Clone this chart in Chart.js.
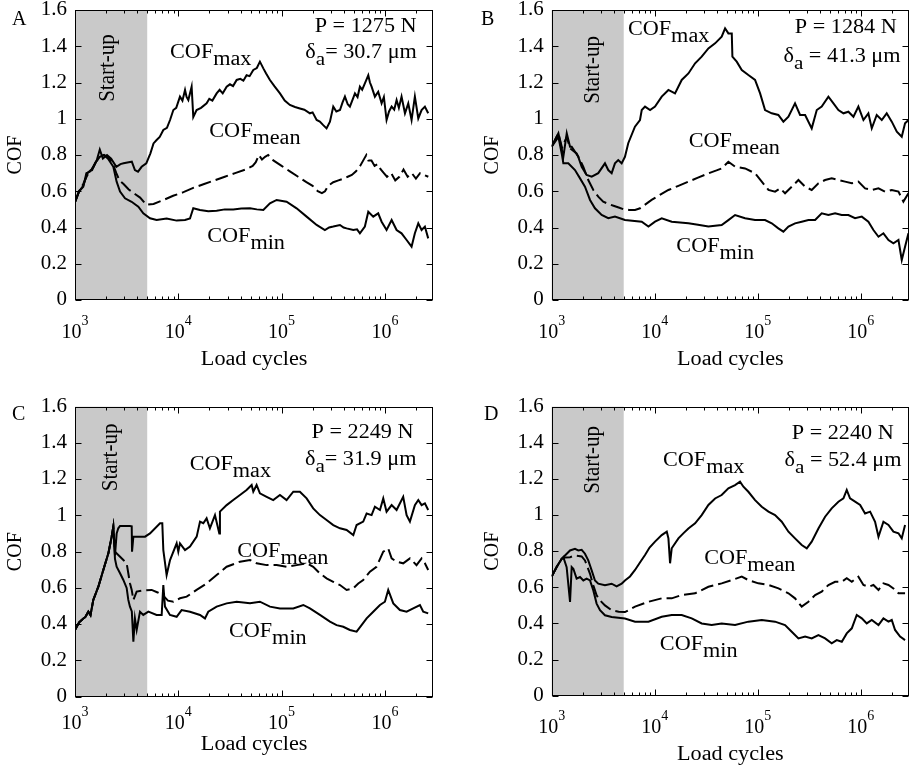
<!DOCTYPE html>
<html>
<head>
<meta charset="utf-8">
<script src="https://cdn.jsdelivr.net/npm/chart.js@4"></script>
<style>
  body { margin: 0; background: #fff; }
  #wrap { position: relative; width: 909px; height: 770px; overflow: hidden; background: #fff; }
  canvas { position: absolute; }
</style>
</head>
<body>
<div id="wrap">
  <canvas id="cA" width="454" height="385" style="left:0;top:0"></canvas>
  <canvas id="cB" width="454" height="385" style="left:455px;top:0"></canvas>
  <canvas id="cC" width="454" height="385" style="left:0;top:385px"></canvas>
  <canvas id="cD" width="454" height="385" style="left:455px;top:385px"></canvas>
</div>
<script>
// Each point is [log10(load cycles), COF]

// Panel A: P = 1275 N
const aMax = [[3.00,.54],[3.04,.60],[3.08,.625],[3.11,.70],[3.15,.71],[3.18,.735],[3.21,.77],[3.24,.83],[3.27,.78],[3.31,.80],[3.35,.78],[3.40,.735],[3.44,.75],[3.47,.754],[3.52,.76],[3.55,.763],[3.58,.717],[3.61,.708],[3.645,.735],[3.69,.754],[3.73,.809],[3.76,.864],[3.79,.883],[3.82,.90],[3.855,.938],[3.89,.95],[3.92,.993],[3.952,1.048],[3.98,1.06],[4.016,1.122],[4.04,1.10],[4.065,1.159],[4.08,1.12],[4.097,1.103],[4.129,1.177],[4.145,1.01],[4.177,1.048],[4.22,1.06],[4.274,1.085],[4.30,1.11],[4.33,1.10],[4.371,1.14],[4.40,1.16],[4.43,1.14],[4.468,1.177],[4.50,1.19],[4.53,1.18],[4.565,1.214],[4.60,1.22],[4.63,1.21],[4.661,1.24],[4.69,1.235],[4.726,1.269],[4.76,1.28],[4.79,1.315],[4.823,1.278],[4.85,1.25],[4.887,1.214],[4.93,1.18],[4.984,1.14],[5.03,1.10],[5.08,1.076],[5.13,1.065],[5.177,1.057],[5.22,1.05],[5.274,1.03],[5.30,1.035],[5.339,.993],[5.37,.985],[5.403,.965],[5.435,.947],[5.468,.984],[5.50,1.067],[5.53,1.04],[5.565,1.048],[5.59,1.09],[5.613,1.122],[5.64,1.08],[5.661,1.067],[5.69,1.11],[5.71,1.14],[5.735,1.12],[5.758,1.177],[5.78,1.16],[5.806,1.195],[5.839,1.24],[5.855,1.20],[5.871,1.177],[5.903,1.122],[5.935,1.149],[5.968,1.085],[5.99,1.12],[6.016,.993],[6.04,1.04],[6.065,1.067],[6.09,1.05],[6.113,1.103],[6.135,1.06],[6.161,1.122],[6.194,1.03],[6.226,1.085],[6.258,.993],[6.29,1.122],[6.323,1.002],[6.355,1.048],[6.387,1.067],[6.419,1.03]];
const aMean = [[3.00,.54],[3.04,.60],[3.08,.64],[3.12,.69],[3.16,.71],[3.20,.76],[3.24,.79],[3.28,.80],[3.32,.79],[3.36,.76],[3.40,.70],[3.43,.66],[3.47,.64],[3.52,.61],[3.58,.585],[3.63,.565],[3.69,.525],[3.76,.53],[3.85,.55],[3.95,.575],[4.05,.595],[4.15,.62],[4.25,.64],[4.35,.66],[4.45,.68],[4.55,.70],[4.65,.72],[4.72,.74],[4.75,.76],[4.78,.80],[4.81,.775],[4.84,.79],[4.87,.80],[4.92,.77],[5.00,.74],[5.08,.71],[5.16,.68],[5.24,.65],[5.30,.63],[5.35,.60],[5.39,.59],[5.42,.60],[5.45,.63],[5.50,.65],[5.55,.66],[5.60,.67],[5.64,.68],[5.68,.69],[5.72,.71],[5.76,.74],[5.80,.78],[5.82,.80],[5.84,.77],[5.87,.77],[5.90,.74],[5.93,.75],[5.96,.72],[5.99,.70],[6.02,.68],[6.06,.70],[6.10,.66],[6.14,.68],[6.18,.72],[6.22,.68],[6.26,.70],[6.30,.67],[6.34,.70],[6.38,.69],[6.42,.68]];
const aMin = [[3.00,.54],[3.04,.60],[3.08,.63],[3.12,.70],[3.16,.72],[3.20,.76],[3.24,.79],[3.28,.80],[3.32,.78],[3.371,.735],[3.403,.653],[3.436,.598],[3.484,.561],[3.548,.542],[3.613,.515],[3.661,.478],[3.726,.451],[3.79,.441],[3.887,.45],[3.984,.438],[4.065,.441],[4.113,.45],[4.145,.506],[4.21,.497],[4.29,.49],[4.371,.493],[4.45,.50],[4.532,.50],[4.61,.505],[4.694,.506],[4.76,.50],[4.823,.497],[4.887,.533],[4.952,.552],[5.048,.542],[5.145,.506],[5.242,.46],[5.339,.414],[5.419,.386],[5.46,.40],[5.50,.405],[5.565,.414],[5.60,.40],[5.629,.395],[5.694,.386],[5.73,.39],[5.758,.368],[5.806,.405],[5.839,.487],[5.887,.46],[5.935,.478],[5.968,.432],[6.016,.386],[6.065,.441],[6.113,.386],[6.161,.368],[6.21,.331],[6.258,.294],[6.29,.368],[6.323,.423],[6.355,.386],[6.387,.405],[6.419,.34]];

// Panel B: P = 1284 N
const bMax = [[3.00,.846],[3.065,.92],[3.113,.79],[3.146,.92],[3.178,.846],[3.194,.846],[3.258,.79],[3.291,.735],[3.339,.69],[3.388,.68],[3.452,.70],[3.517,.754],[3.549,.717],[3.582,.70],[3.614,.754],[3.646,.772],[3.679,.754],[3.711,.79],[3.743,.865],[3.808,.956],[3.857,.993],[3.874,1.048],[3.906,1.067],[3.955,1.048],[4.003,1.067],[4.068,1.122],[4.133,1.159],[4.197,1.14],[4.262,1.214],[4.327,1.25],[4.392,1.306],[4.456,1.343],[4.521,1.388],[4.586,1.416],[4.65,1.453],[4.683,1.499],[4.715,1.471],[4.748,1.471],[4.754,1.343],[4.796,1.315],[4.845,1.269],[4.909,1.241],[4.974,1.214],[5.023,1.14],[5.071,1.048],[5.136,1.03],[5.20,1.021],[5.249,.984],[5.298,1.011],[5.362,1.085],[5.411,1.021],[5.46,1.021],[5.524,.947],[5.573,1.048],[5.621,1.067],[5.686,1.122],[5.735,1.085],[5.783,1.048],[5.832,1.03],[5.88,1.039],[5.929,1.011],[5.977,1.067],[6.026,.993],[6.074,1.03],[6.107,.947],[6.155,1.021],[6.204,.993],[6.252,1.03],[6.301,.984],[6.35,.929],[6.398,.901],[6.43,.975],[6.463,.993]];
const bMean = [[3.00,.846],[3.065,.92],[3.10,.84],[3.146,.90],[3.178,.837],[3.242,.809],[3.307,.735],[3.355,.662],[3.404,.607],[3.452,.57],[3.50,.542],[3.55,.53],[3.60,.52],[3.65,.51],[3.70,.50],[3.75,.497],[3.809,.497],[3.858,.506],[3.97,.552],[4.05,.58],[4.133,.607],[4.23,.63],[4.327,.653],[4.42,.675],[4.521,.699],[4.60,.715],[4.65,.726],[4.715,.763],[4.78,.736],[4.877,.726],[4.974,.699],[5.039,.653],[5.104,.607],[5.168,.598],[5.217,.616],[5.265,.589],[5.33,.625],[5.395,.662],[5.46,.625],[5.524,.607],[5.589,.644],[5.654,.662],[5.718,.671],[5.783,.662],[5.848,.653],[5.913,.644],[5.977,.653],[6.042,.616],[6.107,.607],[6.172,.616],[6.236,.598],[6.301,.607],[6.366,.598],[6.414,.543],[6.463,.589]];
const bMin = [[3.00,.846],[3.065,.90],[3.10,.80],[3.113,.754],[3.161,.754],[3.226,.717],[3.275,.671],[3.323,.625],[3.372,.552],[3.42,.506],[3.485,.469],[3.549,.451],[3.614,.46],[3.711,.441],[3.874,.432],[3.939,.405],[4.003,.432],[4.068,.451],[4.165,.432],[4.327,.423],[4.42,.415],[4.521,.405],[4.65,.414],[4.715,.441],[4.78,.469],[4.877,.451],[4.974,.441],[5.071,.441],[5.136,.423],[5.20,.395],[5.249,.377],[5.298,.405],[5.362,.423],[5.427,.432],[5.492,.441],[5.557,.441],[5.621,.478],[5.686,.469],[5.751,.478],[5.815,.469],[5.88,.469],[5.945,.451],[6.01,.46],[6.074,.432],[6.123,.386],[6.172,.349],[6.22,.368],[6.269,.331],[6.317,.313],[6.366,.331],[6.398,.221],[6.43,.294],[6.463,.368]];

// Panel C: P = 2249 N
const cMax = [[3.00,.368],[3.04,.41],[3.081,.432],[3.10,.44],[3.129,.469],[3.15,.45],[3.177,.534],[3.226,.607],[3.274,.699],[3.323,.791],[3.355,.883],[3.371,.938],[3.387,.78],[3.403,.90],[3.419,.929],[3.436,.942],[3.532,.942],[3.549,.94],[3.552,.80],[3.565,.883],[3.629,.883],[3.678,.883],[3.726,.901],[3.823,.957],[3.845,.957],[3.855,.809],[3.887,.671],[3.92,.754],[3.984,.846],[4.00,.80],[4.016,.846],[4.065,.809],[4.113,.828],[4.178,.883],[4.21,.966],[4.242,.957],[4.274,.984],[4.306,.929],[4.355,1.002],[4.397,.901],[4.403,1.021],[4.468,1.057],[4.532,1.085],[4.597,1.113],[4.661,1.14],[4.71,1.168],[4.726,1.131],[4.758,1.168],[4.79,1.122],[4.855,1.103],[4.919,1.085],[4.984,1.113],[5.048,1.085],[5.113,1.131],[5.177,1.131],[5.242,1.094],[5.306,1.039],[5.371,1.002],[5.435,.975],[5.50,.947],[5.565,.929],[5.629,.92],[5.694,.892],[5.726,.947],[5.79,.966],[5.823,1.011],[5.871,1.002],[5.903,1.048],[5.952,1.03],[5.984,1.094],[6.016,1.021],[6.065,1.057],[6.113,1.03],[6.177,1.103],[6.21,1.002],[6.242,.966],[6.29,1.057],[6.323,1.085],[6.355,1.057],[6.387,1.067],[6.419,1.03]];
const cMean = [[3.00,.368],[3.04,.41],[3.081,.432],[3.10,.44],[3.129,.469],[3.15,.45],[3.177,.534],[3.226,.607],[3.274,.699],[3.323,.791],[3.355,.883],[3.371,.938],[3.387,.80],[3.419,.782],[3.468,.754],[3.50,.736],[3.532,.626],[3.549,.589],[3.565,.534],[3.597,.58],[3.65,.585],[3.742,.589],[3.80,.575],[3.85,.56],[3.90,.53],[3.952,.524],[4.016,.543],[4.081,.552],[4.177,.589],[4.274,.625],[4.371,.671],[4.468,.717],[4.597,.745],[4.694,.754],[4.758,.736],[4.855,.726],[4.952,.726],[5.048,.717],[5.145,.726],[5.242,.736],[5.306,.717],[5.371,.68],[5.435,.653],[5.50,.634],[5.565,.616],[5.629,.589],[5.694,.598],[5.742,.625],[5.79,.644],[5.855,.69],[5.919,.717],[5.984,.80],[6.032,.818],[6.065,.763],[6.113,.745],[6.177,.736],[6.242,.763],[6.306,.726],[6.355,.763],[6.387,.736],[6.419,.699]];
const cMin = [[3.00,.368],[3.04,.41],[3.081,.432],[3.10,.44],[3.129,.469],[3.15,.45],[3.177,.534],[3.226,.607],[3.274,.699],[3.323,.791],[3.355,.883],[3.371,.938],[3.387,.76],[3.403,.717],[3.436,.681],[3.468,.644],[3.50,.60],[3.516,.534],[3.532,.497],[3.55,.47],[3.565,.303],[3.58,.432],[3.597,.368],[3.629,.469],[3.661,.451],[3.71,.469],[3.79,.451],[3.839,.451],[3.855,.616],[3.871,.497],[3.919,.451],[3.984,.441],[4.032,.478],[4.113,.469],[4.21,.451],[4.258,.432],[4.29,.469],[4.371,.497],[4.468,.515],[4.565,.524],[4.694,.515],[4.79,.524],[4.887,.497],[4.984,.487],[5.113,.487],[5.21,.506],[5.274,.487],[5.371,.451],[5.468,.414],[5.532,.395],[5.597,.386],[5.661,.368],[5.726,.359],[5.774,.395],[5.823,.432],[5.887,.469],[5.952,.506],[6.00,.524],[6.032,.589],[6.081,.515],[6.145,.478],[6.21,.469],[6.274,.487],[6.339,.506],[6.371,.469],[6.419,.46]];

// Panel D: P = 2240 N
const dMax = [[3.00,.66],[3.048,.712],[3.097,.758],[3.113,.767],[3.129,.776],[3.178,.804],[3.226,.813],[3.258,.804],[3.291,.808],[3.323,.786],[3.355,.749],[3.388,.694],[3.42,.638],[3.452,.62],[3.517,.611],[3.582,.62],[3.63,.605],[3.679,.62],[3.711,.638],[3.76,.66],[3.809,.696],[3.86,.74],[3.906,.779],[3.95,.82],[4.003,.853],[4.068,.889],[4.117,.908],[4.133,.871],[4.149,.733],[4.165,.816],[4.23,.871],[4.28,.90],[4.327,.926],[4.392,.954],[4.456,1.0],[4.521,1.056],[4.586,1.092],[4.65,1.111],[4.715,1.148],[4.78,1.166],[4.828,1.185],[4.861,1.157],[4.909,1.129],[4.974,1.083],[5.039,1.046],[5.104,1.019],[5.168,1.0],[5.233,.963],[5.298,.908],[5.362,.871],[5.427,.834],[5.476,.816],[5.524,.853],[5.589,.926],[5.654,.991],[5.718,1.037],[5.783,1.074],[5.832,1.092],[5.864,1.139],[5.896,1.092],[5.945,1.074],[5.994,1.056],[6.042,1.009],[6.091,1.019],[6.139,.963],[6.172,.88],[6.22,.963],[6.269,.945],[6.317,.908],[6.366,.899],[6.398,.871],[6.43,.945]];
const dMean = [[3.00,.66],[3.048,.712],[3.097,.758],[3.129,.765],[3.178,.767],[3.226,.776],[3.291,.771],[3.323,.749],[3.372,.675],[3.404,.611],[3.436,.556],[3.469,.528],[3.517,.50],[3.582,.473],[3.65,.465],[3.711,.463],[3.809,.493],[3.939,.52],[4.068,.539],[4.165,.539],[4.262,.557],[4.392,.567],[4.521,.603],[4.65,.622],[4.748,.64],[4.845,.659],[4.909,.64],[5.006,.622],[5.104,.613],[5.201,.594],[5.298,.567],[5.362,.539],[5.427,.493],[5.492,.52],[5.557,.557],[5.621,.576],[5.686,.613],[5.751,.631],[5.815,.631],[5.864,.65],[5.913,.631],[5.977,.659],[6.026,.613],[6.074,.603],[6.123,.613],[6.172,.585],[6.22,.622],[6.269,.613],[6.317,.594],[6.366,.567],[6.43,.567]];
const dMin = [[3.00,.66],[3.048,.712],[3.097,.758],[3.113,.767],[3.145,.712],[3.178,.519],[3.194,.712],[3.21,.703],[3.242,.648],[3.275,.657],[3.307,.638],[3.339,.648],[3.372,.638],[3.404,.583],[3.436,.51],[3.469,.473],[3.517,.445],[3.582,.436],[3.711,.427],[3.809,.41],[3.939,.41],[4.068,.437],[4.165,.447],[4.262,.447],[4.359,.428],[4.456,.40],[4.553,.391],[4.65,.40],[4.78,.391],[4.909,.41],[5.039,.419],[5.168,.41],[5.265,.391],[5.33,.354],[5.395,.317],[5.46,.327],[5.524,.317],[5.589,.336],[5.654,.317],[5.718,.29],[5.767,.308],[5.816,.299],[5.864,.345],[5.913,.373],[5.961,.447],[6.01,.428],[6.058,.40],[6.107,.419],[6.172,.391],[6.22,.428],[6.269,.41],[6.301,.419],[6.333,.364],[6.382,.327],[6.43,.308]];

// Axes
const yTicks = [0, 0.2, 0.4, 0.6, 0.8, 1, 1.2, 1.4, 1.6];
const yTickLabels = ['0', '0.2', '0.4', '0.6', '0.8', '1', '1.2', '1.4', '1.6'];
const xDecades = [1e3, 1e4, 1e5, 1e6];
const xDecadeExp = ['3', '4', '5', '6'];
const xRange = [1000, 2.94e6];
const startUp = [1000, 5000];

const FONT = '"Liberation Serif", "Times New Roman", Times, serif';
const STRETCH = 1.11; // the figure's text is a little wider than plain Times

// Per-panel layout and labels (positions are in data coordinates)
const panels = [
  { id: 'cA', letter: 'A', max: aMax, mean: aMean, min: aMin,
    pad: { left: 75, top: 10, right: 20.7, bottom: 85 }, letterX: 12, letterY: 25, tickBase: 38, titleBase: 65,
    pText: 'P = 1275 N', dText: '= 30.7 \u03bcm', pAt: [5.32, 1.477], dAt: [5.23, 1.333],
    maxAt: [3.92, 1.335], meanAt: [4.30, 0.90], minAt: [4.28, 0.32], startAt: [3.32, 1.28] },
  { id: 'cB', letter: 'B', max: bMax, mean: bMean, min: bMin,
    pad: { left: 96.7, top: 10, right: 0, bottom: 85 }, letterX: 26, letterY: 25, tickBase: 38, titleBase: 65,
    pText: 'P = 1284 N', dText: ' = 41.3 \u03bcm', pAt: [5.36, 1.471], dAt: [5.25, 1.315],
    maxAt: [3.74, 1.462], meanAt: [4.33, 0.846], minAt: [4.21, 0.267], startAt: [3.40, 1.27] },
  { id: 'cC', letter: 'C', max: cMax, mean: cMean, min: cMin,
    pad: { left: 75, top: 21.7, right: 20.7, bottom: 73.3 }, letterX: 12, letterY: 35, tickBase: 32, titleBase: 53,
    pText: 'P = 2249 N', dText: '= 31.9 \u03bcm', pAt: [5.29, 1.426], dAt: [5.226, 1.278],
    maxAt: [4.11, 1.251], meanAt: [4.57, 0.772], minAt: [4.49, 0.331], startAt: [3.35, 1.32] },
  { id: 'cD', letter: 'D', max: dMax, mean: dMean, min: dMin,
    pad: { left: 96.7, top: 21.7, right: 0, bottom: 74.3 }, letterX: 29, letterY: 35, tickBase: 37, titleBase: 64,
    pText: 'P = 2240 N', dText: ' = 52.4 \u03bcm', pAt: [5.33, 1.42], dAt: [5.26, 1.273],
    maxAt: [4.08, 1.273], meanAt: [4.48, 0.73], minAt: [4.05, 0.252], startAt: [3.40, 1.306] }
];

// Draw a string made of runs: [text, baseline shift, font size], stretched sideways
function drawRuns(ctx, parts, x, y, sx = STRETCH) {
  ctx.save();
  ctx.translate(x, y);
  ctx.scale(sx, 1);
  let cx = 0;
  parts.forEach(([t, dy, size]) => {
    ctx.font = size + 'px ' + FONT;
    ctx.fillText(t, cx, dy);
    cx += ctx.measureText(t).width;
  });
  ctx.restore();
}

function runsWidth(ctx, parts, sx = STRETCH) {
  let w = 0;
  parts.forEach(([t, , size]) => {
    ctx.font = size + 'px ' + FONT;
    w += ctx.measureText(t).width;
  });
  return w * sx;
}

function decor(p) {
  return {
    id: 'decor',
    beforeDatasetsDraw(chart) {
      const { ctx, chartArea: a, scales: { x, y } } = chart;
      ctx.save();
      const x0 = x.getPixelForValue(startUp[0]);
      const x1 = x.getPixelForValue(startUp[1]);
      ctx.fillStyle = '#c9c9c9';
      ctx.fillRect(x0, a.top, x1 - x0, a.bottom - a.top);

      ctx.fillStyle = '#000';
      ctx.font = '21px ' + FONT;
      ctx.translate(x.getPixelForValue(10 ** p.startAt[0]), y.getPixelForValue(p.startAt[1]));
      ctx.rotate(-Math.PI / 2);
      ctx.scale(1, STRETCH);
      ctx.textAlign = 'center';
      ctx.textBaseline = 'middle';
      ctx.fillText('Start-up', 0, 0);
      ctx.restore();
    },
    afterDraw(chart) {
      const { ctx, chartArea: a, scales: { x, y } } = chart;
      const L = Math.round(a.left) + 0.5, R = Math.round(a.right) - 0.5;
      const T = Math.round(a.top) + 0.5, B = Math.round(a.bottom) - 0.5;
      ctx.save();
      ctx.strokeStyle = '#000';
      ctx.fillStyle = '#000';
      ctx.lineWidth = 1;
      ctx.strokeRect(L, T, R - L, B - T);

      // inward ticks on all four sides
      ctx.beginPath();
      yTicks.forEach(v => {
        const py = Math.round(y.getPixelForValue(v)) + 0.5;
        ctx.moveTo(L, py); ctx.lineTo(L + 6, py);
        ctx.moveTo(R, py); ctx.lineTo(R - 6, py);
      });
      xDecades.forEach(d => {
        for (let m = 1; m <= 9; m++) {
          const v = m * d;
          if (v > x.max) break;
          const len = m === 1 ? 6 : 3;
          const px = Math.round(x.getPixelForValue(v)) + 0.5;
          ctx.moveTo(px, B); ctx.lineTo(px, B - len);
          ctx.moveTo(px, T); ctx.lineTo(px, T + len);
        }
      });
      ctx.stroke();

      // y tick labels
      ctx.textBaseline = 'middle';
      yTicks.forEach((v, i) => {
        const parts = [[yTickLabels[i], 0, 20]];
        drawRuns(ctx, parts, a.left - 8 - runsWidth(ctx, parts, 1.05), y.getPixelForValue(v), 1.05);
      });

      // x tick labels 10^n
      ctx.textBaseline = 'alphabetic';
      xDecades.forEach((d, i) => {
        const parts = [['10', 0, 20], [xDecadeExp[i], -13, 14]];
        const w = runsWidth(ctx, parts, 1.0);
        drawRuns(ctx, parts, x.getPixelForValue(d) - w / 2, a.bottom + p.tickBase, 1.0);
      });

      // axis titles
      const xt = [['Load cycles', 0, 20]];
      drawRuns(ctx, xt, (a.left + a.right) / 2 - runsWidth(ctx, xt) / 2, a.bottom + p.titleBase);
      ctx.save();
      ctx.translate(a.left - 59, (a.top + a.bottom) / 2);
      ctx.rotate(-Math.PI / 2);
      ctx.font = '20px ' + FONT;
      ctx.textAlign = 'center';
      ctx.textBaseline = 'middle';
      ctx.fillText('COF', 0, 0);
      ctx.restore();

      // panel letter
      drawRuns(ctx, [[p.letter, 0, 20]], p.letterX, p.letterY, 1.0);

      // curve labels and test conditions
      const at = pt => [x.getPixelForValue(10 ** pt[0]), y.getPixelForValue(pt[1])];
      drawRuns(ctx, [['COF', 0, 20], ['max', 7, 20]], ...at(p.maxAt));
      drawRuns(ctx, [['COF', 0, 20], ['mean', 7, 20]], ...at(p.meanAt));
      drawRuns(ctx, [['COF', 0, 20], ['min', 7, 20]], ...at(p.minAt));
      drawRuns(ctx, [[p.pText, 0, 20]], ...at(p.pAt));
      drawRuns(ctx, [['\u03b4', 0, 20], ['a', 7, 19], [p.dText, 0, 20]], ...at(p.dAt));
      ctx.restore();
    }
  };
}

function toPoints(series) {
  return series.map(([e, c]) => ({ x: 10 ** e, y: c }));
}

panels.forEach(p => {
  const ctx = document.getElementById(p.id).getContext('2d');
  const line = { borderColor: '#000', borderWidth: 2, pointRadius: 0, tension: 0, fill: false };
  new Chart(ctx, {
    type: 'line',
    data: {
      datasets: [
        { ...line, label: 'COF max', data: toPoints(p.max) },
        { ...line, label: 'COF mean', data: toPoints(p.mean), borderDash: [13, 5] },
        { ...line, label: 'COF min', data: toPoints(p.min) }
      ]
    },
    options: {
      responsive: false,
      animation: false,
      devicePixelRatio: 1,
      events: [],
      layout: { padding: p.pad },
      plugins: { legend: { display: false }, tooltip: { enabled: false } },
      scales: {
        x: { type: 'logarithmic', min: xRange[0], max: xRange[1], display: false },
        y: { type: 'linear', min: 0, max: 1.6, display: false }
      }
    },
    plugins: [decor(p)]
  });
});
</script>
</body>
</html>
